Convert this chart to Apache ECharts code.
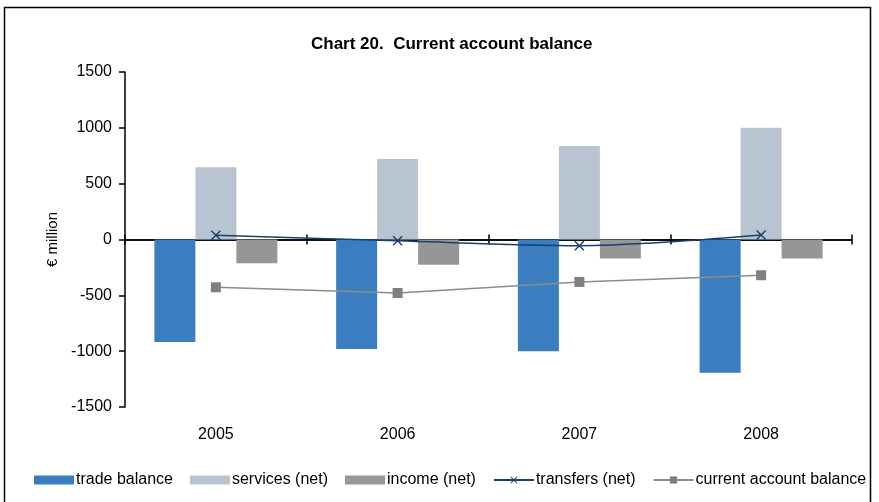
<!DOCTYPE html>
<html>
<head>
<meta charset="utf-8">
<script src="https://cdn.jsdelivr.net/npm/echarts@6/dist/echarts.min.js"></script>
<style>html,body{margin:0;padding:0;background:#fff}#c{width:879px;height:502px}</style>
</head>
<body>
<div id="c"></div>
<script>
const categories = ['2005', '2006', '2007', '2008'];
const tradeBalance = [-918, -981, -1000, -1193];
const servicesNet = [648, 720, 838, 1000];
const incomeNet = [-213, -227, -171, -171];
const transfersNet = [39, -12, -55, 40];
const currentAccount = [-428, -479, -380, -320];
const yMin = -1500, yMax = 1500, yStep = 500;

const FONT = '"Liberation Sans", Arial, sans-serif';
const xMarker = 'path://M0,1 L1,0 L5,4 L9,0 L10,1 L6,5 L10,9 L9,10 L5,6 L1,10 L0,9 L4,5 Z';

const chart = echarts.init(document.getElementById('c'), null, {renderer: 'canvas'});
chart.setOption({
  animation: false,
  backgroundColor: '#fff',
  textStyle: {fontFamily: FONT},
  title: {
    text: 'Chart 20.  Current account balance',
    left: 306, top: 31,
    textStyle: {fontFamily: FONT, fontSize: 17, fontWeight: 'bold', color: '#000'}
  },
  graphic: [{
    type: 'rect', silent: true,
    shape: {x: 4.5, y: 7.5, width: 866, height: 600},
    style: {fill: 'none', stroke: '#000', lineWidth: 1.5}
  }],
  legend: {
    left: 29, top: 467,
    itemWidth: 40, itemHeight: 9, itemGap: 17,
    textStyle: {fontFamily: FONT, fontSize: 16, color: '#000', padding: [0, 0, 0, -3]},
    data: [
      {name: 'trade balance', icon: 'rect'},
      {name: 'services (net)', icon: 'rect'},
      {name: 'income (net)', icon: 'rect'},
      'transfers (net)', 'current account balance'
    ]
  },
  grid: {left: 125, right: 27, top: 72, bottom: 95},
  xAxis: [{
    type: 'category', data: categories, position: 'bottom',
    axisLine: {onZero: true, onZeroAxisIndex: 0, lineStyle: {color: '#000', width: 1.5}},
    axisTick: {show: true, inside: false, length: 5, lineStyle: {color: '#000', width: 1.5}},
    axisLabel: {show: false}
  }, {
    type: 'category', data: categories, position: 'bottom',
    axisLine: {onZero: true, onZeroAxisIndex: 0, lineStyle: {color: '#000', width: 1.5}},
    axisTick: {show: true, inside: true, length: 5, lineStyle: {color: '#000', width: 1.5}},
    axisLabel: {show: false}
  }, {
    type: 'category', data: categories, position: 'bottom',
    axisLine: {show: false, onZero: false},
    axisTick: {show: false},
    axisLabel: {show: true, margin: 20, fontFamily: FONT, fontSize: 16, color: '#000'}
  }],
  yAxis: {
    type: 'value', min: yMin, max: yMax, interval: yStep,
    name: '€ million', nameLocation: 'middle', nameGap: 46,
    nameTextStyle: {fontFamily: FONT, fontSize: 15, color: '#000'},
    axisLine: {show: true, lineStyle: {color: '#000', width: 1.5}},
    axisTick: {show: true, length: 6, lineStyle: {color: '#000', width: 1.5}},
    axisLabel: {margin: 13, fontFamily: FONT, fontSize: 16, color: '#000', formatter: v => String(v)},
    splitLine: {show: false}
  },
  series: [{
    name: 'trade balance', type: 'bar', data: tradeBalance, xAxisIndex: 0,
    barWidth: 41, barGap: '0%', itemStyle: {color: '#3A7EBF'}
  }, {
    name: 'services (net)', type: 'bar', data: servicesNet, xAxisIndex: 0,
    barWidth: 41, barGap: '0%', itemStyle: {color: '#B8C4D2'}
  }, {
    name: 'income (net)', type: 'bar', data: incomeNet, xAxisIndex: 0,
    barWidth: 41, barGap: '0%', itemStyle: {color: '#969696'}
  }, {
    name: 'transfers (net)', type: 'line', data: transfersNet, xAxisIndex: 0,
    smooth: 0.3, symbol: xMarker, symbolSize: 10, z: 5,
    lineStyle: {color: '#1B3D6E', width: 1.5},
    itemStyle: {color: '#1B3D6E'}
  }, {
    name: 'current account balance', type: 'line', data: currentAccount, xAxisIndex: 0,
    symbol: 'rect', symbolSize: 10, z: 5,
    lineStyle: {color: '#8C8C8C', width: 1.5},
    itemStyle: {color: '#808080'}
  }]
});
</script>
</body>
</html>
